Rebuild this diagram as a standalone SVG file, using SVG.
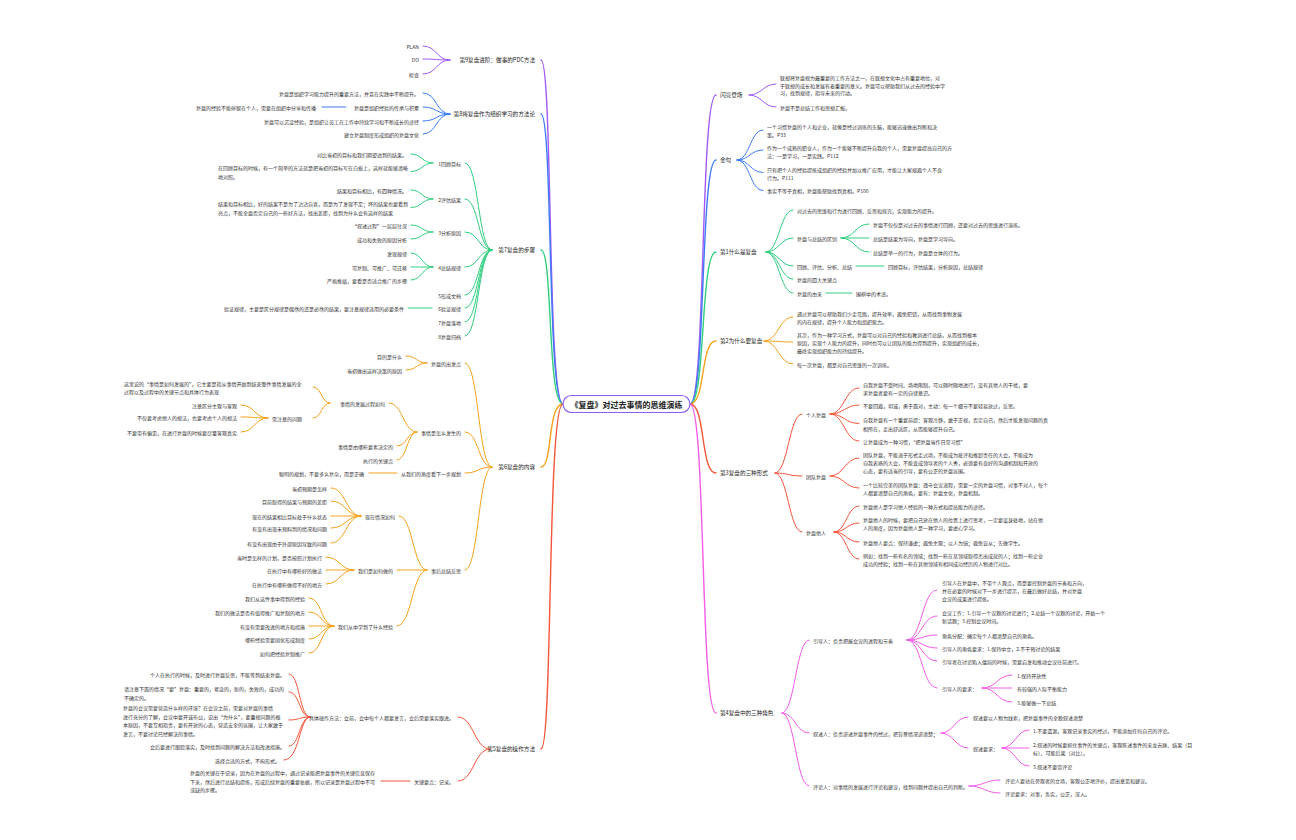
<svg xmlns="http://www.w3.org/2000/svg" width="1296" height="840" viewBox="0 0 1296 840">
<style>
text{font-family:"Noto Sans CJK SC","Noto Sans",sans-serif;font-size:5px;fill:#333;dominant-baseline:central}
.m{font-size:5.6px;fill:#222}
.e{text-anchor:end}
.ti{font-size:8px;font-weight:bold;fill:#222;text-anchor:middle}
path{fill:none;stroke-width:1;stroke-linecap:round}
.P{stroke:#a259f5}.B{stroke:#3d7bf5}.G{stroke:#2fcf7e}.O{stroke:#f7a11a}.R{stroke:#f5553a}.M{stroke:#f55ce8}
.k{stroke-width:1.4}
</style>
<rect width="1296" height="840" fill="#fff"/>
<g id="connectors">
<path class="P k" d="M563 404 C547 404,553 60,541 60"/>
<path class="B k" d="M563 404 C547 404,553 114,541 114"/>
<path class="G k" d="M563 404 C547 404,553 250,541 250"/>
<path class="O k" d="M563 404 C547 404,553 467,541 467"/>
<path class="R k" d="M563 404 C547 404,553 749,541 749"/>
<path class="P" d="M450 60 C436 60,437 46,423 46"/>
<path class="P" d="M450 60 C436 60,437 59,423 59"/>
<path class="P" d="M450 60 C436 60,437 74,423 74"/>
<path class="B" d="M450 114 C436 114,437 93,423 93"/>
<path class="B" d="M450 114 C436 114,437 107,423 107"/>
<path class="B" d="M450 114 C436 114,437 121,423 121"/>
<path class="B" d="M450 114 C436 114,437 134,423 134"/>
<path class="B" d="M346 107 L322 107"/>
<path class="G" d="M492 250 C478 250,479 163,465 163"/>
<path class="G" d="M492 250 C478 250,479 199,465 199"/>
<path class="G" d="M492 250 C478 250,479 232,465 232"/>
<path class="G" d="M492 250 C478 250,479 267,465 267"/>
<path class="G" d="M492 250 C478 250,479 295,465 295"/>
<path class="G" d="M492 250 C478 250,479 308,465 308"/>
<path class="G" d="M492 250 C478 250,479 322,465 322"/>
<path class="G" d="M492 250 C478 250,479 336,465 336"/>
<path class="G" d="M433 163 C422 163,422 154,411 154"/>
<path class="G" d="M433 163 C422 163,422 171.5,411 171.5"/>
<path class="G" d="M433 199 C422 199,422 190,411 190"/>
<path class="G" d="M433 199 C422 199,422 207.5,411 207.5"/>
<path class="G" d="M433 232 C422 232,422 225,411 225"/>
<path class="G" d="M433 232 C422 232,422 239,411 239"/>
<path class="G" d="M433 267 C422 267,422 253,411 253"/>
<path class="G" d="M433 267 C422 267,422 267,411 267"/>
<path class="G" d="M433 267 C422 267,422 280,411 280"/>
<path class="G" d="M432 308 L408 308"/>
<path class="O" d="M492 467 C478 467,479 363,465 363"/>
<path class="O" d="M492 467 C478 467,479 432,465 432"/>
<path class="O" d="M492 467 C478 467,479 473,465 473"/>
<path class="O" d="M492 467 C478 467,479 570,465 570"/>
<path class="O" d="M427 363 C416 363,417 356,406 356"/>
<path class="O" d="M427 363 C416 363,417 370,406 370"/>
<path class="O" d="M417 432 C403 432,403 403,389 403"/>
<path class="O" d="M417 432 C407 432,407 446,397 446"/>
<path class="O" d="M417 432 C407 432,407 460,397 460"/>
<path class="O" d="M330 403 C321 403,322 387,313 387"/>
<path class="O" d="M330 403 C321 403,322 418,313 418"/>
<path class="O" d="M268 418 C254 418,255 405,241 405"/>
<path class="O" d="M268 418 C254 418,255 417,241 417"/>
<path class="O" d="M268 418 C254 418,255 432,241 432"/>
<path class="O" d="M397 473 L369 473"/>
<path class="O" d="M427 570 C413 570,413 516,399 516"/>
<path class="O" d="M427 570 C412 570,412 570,397 570"/>
<path class="O" d="M427 570 C412 570,412 626,397 626"/>
<path class="O" d="M361 516 C346 516,346 488,331 488"/>
<path class="O" d="M361 516 C346 516,346 501,331 501"/>
<path class="O" d="M361 516 C346 516,346 516,331 516"/>
<path class="O" d="M361 516 C346 516,346 528,331 528"/>
<path class="O" d="M361 516 C346 516,346 543,331 543"/>
<path class="O" d="M354 570 C340 570,340 557,326 557"/>
<path class="O" d="M354 570 C340 570,340 570,326 570"/>
<path class="O" d="M354 570 C340 570,340 584,326 584"/>
<path class="O" d="M334 626 C321 626,322 598,309 598"/>
<path class="O" d="M334 626 C321 626,322 612,309 612"/>
<path class="O" d="M334 626 C321 626,322 626,309 626"/>
<path class="O" d="M334 626 C321 626,322 639,309 639"/>
<path class="O" d="M334 626 C321 626,322 653,309 653"/>
<path class="R" d="M490 749 C474 749,474 717,458 717"/>
<path class="R" d="M490 749 C474 749,474 781,458 781"/>
<path class="R" d="M310 717 C299 717,300 674,289 674"/>
<path class="R" d="M310 717 C299 717,300 692,289 692"/>
<path class="R" d="M310 717 C299 717,300 720,289 720"/>
<path class="R" d="M310 717 C299 717,300 746,289 746"/>
<path class="R" d="M310 717 C299 717,300 760,284 760"/>
<path class="R" d="M410 781 L381 781"/>
<path class="P k" d="M690 404 C706 404,700 95,716 95"/>
<path class="B k" d="M690 404 C706 404,700 160,716 160"/>
<path class="G k" d="M690 404 C706 404,700 252,716 252"/>
<path class="O k" d="M690 404 C706 404,700 341,716 341"/>
<path class="R k" d="M690 404 C706 404,700 473,716 473"/>
<path class="M k" d="M690 404 C706 404,700 713,716 713"/>
<path class="P" d="M749 95 C762 95,763 84,776 84"/>
<path class="P" d="M749 95 C762 95,763 107,776 107"/>
<path class="B" d="M737 160 C750 160,750 130,763 130"/>
<path class="B" d="M737 160 C750 160,750 150,763 150"/>
<path class="B" d="M737 160 C750 160,750 172.5,763 172.5"/>
<path class="B" d="M737 160 C750 160,750 190.5,763 190.5"/>
<path class="G" d="M766 252 C779 252,780 210,793 210"/>
<path class="G" d="M766 252 C779 252,780 238,793 238"/>
<path class="G" d="M766 252 C779 252,780 266,793 266"/>
<path class="G" d="M766 252 C779 252,780 279,793 279"/>
<path class="G" d="M766 252 C779 252,780 293,793 293"/>
<path class="G" d="M841 238 C855 238,855 224,869 224"/>
<path class="G" d="M841 238 C855 238,855 238,869 238"/>
<path class="G" d="M841 238 C855 238,855 252,869 252"/>
<path class="G" d="M856 266 L884 266"/>
<path class="G" d="M826 293 L852 293"/>
<path class="O" d="M764 341 C778 341,779 317,793 317"/>
<path class="O" d="M764 341 C778 341,779 342,793 342"/>
<path class="O" d="M764 341 C778 341,779 364,793 364"/>
<path class="R" d="M775 473 C788 473,789 414,802 414"/>
<path class="R" d="M775 473 C788 473,789 476,802 476"/>
<path class="R" d="M775 473 C788 473,789 532,802 532"/>
<path class="R" d="M830 414 C844 414,845 388,859 388"/>
<path class="R" d="M830 414 C844 414,845 405,859 405"/>
<path class="R" d="M830 414 C844 414,845 423.5,859 423.5"/>
<path class="R" d="M830 414 C844 414,845 441,859 441"/>
<path class="R" d="M830 476 C844 476,845 458,859 458"/>
<path class="R" d="M830 476 C844 476,845 488,859 488"/>
<path class="R" d="M834 532 C846 532,847 506,859 506"/>
<path class="R" d="M834 532 C846 532,847 523,859 523"/>
<path class="R" d="M834 532 C846 532,847 542,859 542"/>
<path class="R" d="M834 532 C846 532,847 559,859 559"/>
<path class="M" d="M782 713 C795 713,796 640,809 640"/>
<path class="M" d="M782 713 C795 713,796 733,809 733"/>
<path class="M" d="M782 713 C795 713,796 786,809 786"/>
<path class="M" d="M907 640 C922 640,922 590,937 590"/>
<path class="M" d="M907 640 C922 640,922 616,937 616"/>
<path class="M" d="M907 640 C922 640,922 635,937 635"/>
<path class="M" d="M907 640 C922 640,922 648,937 648"/>
<path class="M" d="M907 640 C922 640,922 661,937 661"/>
<path class="M" d="M907 640 C922 640,922 688,937 688"/>
<path class="M" d="M982 688 C997 688,997 675,1012 675"/>
<path class="M" d="M982 688 C997 688,997 688,1012 688"/>
<path class="M" d="M982 688 C997 688,997 702,1012 702"/>
<path class="M" d="M941 733 C954 733,955 717,968 717"/>
<path class="M" d="M941 733 C954 733,955 748,968 748"/>
<path class="M" d="M1002 748 C1015 748,1016 730,1029 730"/>
<path class="M" d="M1002 748 C1015 748,1016 748,1029 748"/>
<path class="M" d="M1002 748 C1015 748,1016 766,1029 766"/>
<path class="M" d="M969 786 C984 786,985 780,1000 780"/>
<path class="M" d="M969 786 C984 786,985 793,1000 793"/>
</g>
<g id="center"><rect x="563" y="395.5" width="127" height="17" rx="8.5" fill="#fff" stroke="#8b5cf6" stroke-width="1.2"/><text class="ti" x="626.5" y="404">《复盘》对过去事情的思维演练</text></g>
<!-- LEFT: purple -->
<g id="n-pdc"><text class="m e" x="535" y="60">第9复盘进阶：做事的PDC方法</text></g>
<g id="n-plan"><text class="e" x="419" y="46">PLAN</text></g>
<g id="n-do"><text class="e" x="419" y="59">DO</text></g>
<g id="n-check"><text class="e" x="419" y="74">检查</text></g>
<!-- blue -->
<g id="n-org"><text class="m e" x="535" y="114">第8将复盘作为组织学习的方法论</text></g>
<g id="n-org1"><text class="e" x="419" y="93">复盘是组织学习能力提升的重要方法，并且在实践中不断提升。</text></g>
<g id="n-org2"><text class="e" x="419" y="107">复盘是组织经验的传承与积累</text></g>
<g id="n-org2a"><text class="e" x="316" y="107">复盘的经验不能停留在个人，需要在组织中分享和传播</text></g>
<g id="n-org3"><text class="e" x="419" y="121">复盘可以沉淀经验，是组织让员工在工作中持续学习和不断成长的途径</text></g>
<g id="n-org4"><text class="e" x="419" y="134">建立复盘制度形成组织的复盘文化</text></g>
<!-- green -->
<g id="n-steps"><text class="m e" x="535" y="250">第7复盘的步骤</text></g>
<g id="n-s1"><text class="e" x="461" y="163">1回顾目标</text></g>
<g id="n-s1a"><text class="e" x="407" y="154">对比当初的目标和我们期望达到的结果。</text></g>
<g id="n-s1b"><text x="218" y="167">在回顾目标的时候，有一个简单的方法就是把当初的目标写在白板上，这样就能够清晰<tspan x="218" dy="9">地对照。</tspan></text></g>
<g id="n-s2"><text class="e" x="461" y="199">2评估结果</text></g>
<g id="n-s2a"><text class="e" x="407" y="190">结果和目标相比，有四种情况。</text></g>
<g id="n-s2b"><text x="218" y="203">结果和目标相比，好的结果不是为了沾沾自喜，而是为了发现不足；坏的结果也要看到<tspan x="218" dy="9">亮点，不能全盘否定自己的一些好方法，找出差距，找到为什么会有这样的结果</tspan></text></g>
<g id="n-s3"><text class="e" x="461" y="232">3分析原因</text></g>
<g id="n-s3a"><text class="e" x="407" y="225">“叙述过程”一层层往深</text></g>
<g id="n-s3b"><text class="e" x="407" y="239">成功和失败的原因分析</text></g>
<g id="n-s4"><text class="e" x="461" y="267">4总结规律</text></g>
<g id="n-s4a"><text class="e" x="407" y="253">发现规律</text></g>
<g id="n-s4b"><text class="e" x="407" y="267">可复制、可推广、可迁移</text></g>
<g id="n-s4c"><text class="e" x="407" y="280">严格推敲，要看是否适合推广的步骤</text></g>
<g id="n-s5"><text class="e" x="461" y="295">5形成文档</text></g>
<g id="n-s6"><text class="e" x="461" y="308">6验证规律</text></g>
<g id="n-s6a"><text class="e" x="404" y="308">验证规律，主要是区分规律是偶然的还是必然的结果，要注意规律适用的必要条件</text></g>
<g id="n-s7"><text class="e" x="461" y="322">7复盘落地</text></g>
<g id="n-s8"><text class="e" x="461" y="336">8复盘归档</text></g>
<!-- orange -->
<g id="n-content"><text class="m e" x="535" y="467">第6复盘的内容</text></g>
<g id="n-c1"><text class="e" x="461" y="363">复盘的出发点</text></g>
<g id="n-c1a"><text class="e" x="402" y="356">目的是什么</text></g>
<g id="n-c1b"><text class="e" x="402" y="370">当初做出这样决策的原因</text></g>
<g id="n-c2"><text class="e" x="461" y="432">事情是怎么发生的</text></g>
<g id="n-c2a"><text class="e" x="385" y="403">事情的发展过程如何</text></g>
<g id="n-c2a1"><text x="124" y="383">这里说的“事情是如何发展的”，它主要是指从事情开始到结束整件事情发展的全<tspan x="124" dy="8">过程以及过程中的关键节点和具体行为表现</tspan></text></g>
<g id="n-c2a2"><text class="e" x="302" y="418">需注意的问题</text></g>
<g id="n-c2a2a"><text class="e" x="237" y="405">注意区分主观与客观</text></g>
<g id="n-c2a2b"><text class="e" x="237" y="417">不仅要考虑他人的想法，也要考虑个人的想法</text></g>
<g id="n-c2a2c"><text class="e" x="237" y="432">不要带有偏见，在进行复盘的时候要尽量客观真实</text></g>
<g id="n-c2b"><text class="e" x="393" y="446">事情是由哪些要素决定的</text></g>
<g id="n-c2c"><text class="e" x="393" y="460">执行的关键点</text></g>
<g id="n-c3"><text class="e" x="461" y="473">从我们的角度看下一步规划</text></g>
<g id="n-c3a"><text class="e" x="364" y="473">聪明的规划，不要多么复杂，而是正确</text></g>
<g id="n-c4"><text class="e" x="461" y="570">事后总结反思</text></g>
<g id="n-c4a"><text class="e" x="395" y="516">现在情况如何</text></g>
<g id="n-c4a1"><text class="e" x="327" y="488">当初预期是怎样</text></g>
<g id="n-c4a2"><text class="e" x="327" y="501">目前取得的结果与预期的差距</text></g>
<g id="n-c4a3"><text class="e" x="327" y="516">现在的结果相比目标处于什么状态</text></g>
<g id="n-c4a4"><text class="e" x="327" y="528">有没有出现未预料到的情况和问题</text></g>
<g id="n-c4a5"><text class="e" x="327" y="543">有没有出现由于外部原因导致的问题</text></g>
<g id="n-c4b"><text class="e" x="393" y="570">我们是如何做的</text></g>
<g id="n-c4b1"><text class="e" x="322" y="557">当时是怎样的计划，是否按照计划执行</text></g>
<g id="n-c4b2"><text class="e" x="322" y="570">在执行中有哪些好的做法</text></g>
<g id="n-c4b3"><text class="e" x="322" y="584">在执行中有哪些做得不好的地方</text></g>
<g id="n-c4c"><text class="e" x="393" y="626">我们从中学到了什么经验</text></g>
<g id="n-c4c1"><text class="e" x="305" y="598">我们从这件事中得到的经验</text></g>
<g id="n-c4c2"><text class="e" x="305" y="612">我们的做法是否有值得推广和复制的地方</text></g>
<g id="n-c4c3"><text class="e" x="305" y="626">有没有需要改进的地方和措施</text></g>
<g id="n-c4c4"><text class="e" x="305" y="639">哪些经验需要固化形成制度</text></g>
<g id="n-c4c5"><text class="e" x="305" y="653">如何把经验复制推广</text></g>
<!-- red -->
<g id="n-method"><text class="m e" x="535" y="749">第5复盘的操作方法</text></g>
<g id="n-m1"><text class="e" x="454" y="717">具体操作方法：会前，会中每个人都要发言，会后需要落实跟进。</text></g>
<g id="n-m1a"><text class="e" x="285" y="674">个人在执行的时候，及时进行复盘反思，不能等到结束复盘。</text></g>
<g id="n-m1b"><text x="124" y="688">请注意下面的情况“要”复盘：重要的，紧急的，新的，失败的，成功的<tspan x="124" dy="8.5">不确定的。</tspan></text></g>
<g id="n-m1c"><text x="123" y="707">复盘的会议需要营造什么样的环境？在会议之前，需要对复盘的事情<tspan x="123" dy="8.5">进行充分的了解，会议中要开诚布公，说出“为什么”，要重视问题的根</tspan><tspan x="123" dy="8.5">本原因，不要互相指责，要有开放的心态，营造安全的氛围，让大家敢于</tspan><tspan x="123" dy="8.5">发言，不要讨论已经解决的事情。</tspan></text></g>
<g id="n-m1d"><text class="e" x="285" y="746">会后要进行跟踪落实，及时找到问题的解决方法和改进措施。</text></g>
<g id="n-m1e"><text class="e" x="280" y="760">选择合适的方式，不拘形式。</text></g>
<g id="n-m2"><text class="e" x="454" y="781">关键要点：记录。</text></g>
<g id="n-m2a"><text x="190" y="772">复盘的关键在于记录，因为在复盘的过程中，通过记录能把复盘事件的关键信息保存<tspan x="190" dy="8.5">下来，然后进行总结和提炼，形成后续复盘的重要依据，所以记录是复盘过程中不可</tspan><tspan x="190" dy="8.5">或缺的步骤。</tspan></text></g>
<!-- RIGHT -->
<g id="n-intro"><text class="m" x="720" y="95">闪亮登场</text></g>
<g id="n-intro1"><text x="780" y="77">联想将复盘视为最重要的工作方法之一，在联想文化中占有重要地位，对<tspan x="780" dy="7.5">于联想的成长和发展有着重要的意义。复盘可以帮助我们从过去的经验中学</tspan><tspan x="780" dy="7.5">习，找到规律，指导未来的行动。</tspan></text></g>
<g id="n-intro2"><text x="780" y="107">复盘不是总结工作和思想汇报。</text></g>
<g id="n-quote"><text class="m" x="720" y="160">金句</text></g>
<g id="n-q1"><text x="767" y="126">一个习惯复盘的个人和企业，就像是经过训练的头脑，能够迅速做出判断和决<tspan x="767" dy="7.5">策。P33</tspan></text></g>
<g id="n-q2"><text x="767" y="147">作为一个成熟的职业人，作为一个能够不断提升自我的个人，需要复盘提高自己的方<tspan x="767" dy="7.5">法：一是学习，一是实践。P112</tspan></text></g>
<g id="n-q3"><text x="767" y="169">只有把个人的经验提炼成组织的经验并加以推广应用，才能让大家规避个人不良<tspan x="767" dy="7.5">行为。P111</tspan></text></g>
<g id="n-q4"><text x="767" y="190.5">事实不等于真相，复盘能帮助找到真相。P100</text></g>
<g id="n-ch1"><text class="m" x="720" y="252">第1什么是复盘</text></g>
<g id="n-ch1a"><text x="797" y="210">对过去的思维和行为进行回顾、反思和探究，实现能力的提升。</text></g>
<g id="n-ch1b"><text x="797" y="238">复盘与总结的区别</text></g>
<g id="n-ch1b1"><text x="873" y="224">复盘不仅仅是对过去的事情进行回顾，还要对过去的思维进行演练。</text></g>
<g id="n-ch1b2"><text x="873" y="238">总结是结果为导向，复盘是学习导向。</text></g>
<g id="n-ch1b3"><text x="873" y="252">总结是单一的行为，复盘是立体的行为。</text></g>
<g id="n-ch1c"><text x="797" y="266">回顾、评估、分析、总结</text></g>
<g id="n-ch1c1"><text x="888" y="266">回顾目标，评估结果，分析原因，总结规律</text></g>
<g id="n-ch1d"><text x="797" y="279">复盘的四大关键点</text></g>
<g id="n-ch1e"><text x="797" y="293">复盘的由来</text></g>
<g id="n-ch1e1"><text x="856" y="293">围棋中的术语。</text></g>
<g id="n-ch2"><text class="m" x="720" y="341">第2为什么要复盘</text></g>
<g id="n-ch2a"><text x="797" y="313.5">通过复盘可以帮助我们少走弯路，提升效率，避免犯错，从而找到事物发展<tspan x="797" dy="7.5">的内在规律，提升个人能力和组织能力。</tspan></text></g>
<g id="n-ch2b"><text x="797" y="334.5">其次，作为一种学习方式，复盘可以对自己的经验和教训进行总结，从而找到根本<tspan x="797" dy="7.5">原因，实现个人能力的提升，同时也可以让团队的能力得到提升，实现组织的成长，</tspan><tspan x="797" dy="7.5">最终实现组织能力的持续提升。</tspan></text></g>
<g id="n-ch2c"><text x="797" y="364">每一次复盘，都是对自己思维的一次训练。</text></g>
<g id="n-ch3"><text class="m" x="720" y="473">第3复盘的三种形式</text></g>
<g id="n-ch3a"><text x="806" y="414">个人复盘</text></g>
<g id="n-ch3a1"><text x="863" y="384">自我复盘不受时间、场地限制，可以随时随地进行，没有其他人的干扰，要<tspan x="863" dy="8">求复盘者要有一定的自律意识。</tspan></text></g>
<g id="n-ch3a2"><text x="863" y="405">不要回避，坦诚，勇于面对，主动：每一个细节不要轻易放过，反思。</text></g>
<g id="n-ch3a3"><text x="863" y="419">自我复盘有一个重要前提：客观冷静，敢于正视，否定自己，然后才能发现问题的真<tspan x="863" dy="8.5">相所在，走出舒适区，从而能够提升自己。</tspan></text></g>
<g id="n-ch3a4"><text x="863" y="441">让复盘成为一种习惯，“把复盘当作日常习惯”</text></g>
<g id="n-ch3b"><text x="806" y="476">团队复盘</text></g>
<g id="n-ch3b1"><text x="863" y="454">团队复盘，不能流于形式走过场，不能成为批评和推卸责任的大会，不能成为<tspan x="863" dy="8">自我表扬的大会，不能变成领导者的个人秀，必须要有良好的沟通机制和开放的</tspan><tspan x="863" dy="8">心态，要有适当的引导，要有公正的复盘氛围。</tspan></text></g>
<g id="n-ch3b2"><text x="863" y="484">一个比较完美的团队复盘：遵守会议流程，需要一定的复盘习惯，对事不对人，每个<tspan x="863" dy="8">人都要清楚自己的角色，要有：复盘文化，复盘机制。</tspan></text></g>
<g id="n-ch3c"><text x="806" y="532">复盘他人</text></g>
<g id="n-ch3c1"><text x="863" y="506">复盘他人是学习他人经验的一种方式和提高能力的途径。</text></g>
<g id="n-ch3c2"><text x="863" y="519">复盘他人的时候，要把自己放在他人的位置上进行思考，一定要设身处地，站在他<tspan x="863" dy="8">人的角度，因为复盘他人是一种学习，要虚心学习。</tspan></text></g>
<g id="n-ch3c3"><text x="863" y="542">复盘他人要点：保持谦虚；避免主观；以人为镜；避免盲从；先做学生。</text></g>
<g id="n-ch3c4"><text x="863" y="555">例如：找到一些有名的领域；找到一些在某领域取得杰出成就的人；找到一些企业<tspan x="863" dy="8">成功的经验；找到一些在其他领域有相同成功经历的人物进行对比。</tspan></text></g>
<g id="n-ch4"><text class="m" x="720" y="713">第4复盘中的三种角色</text></g>
<g id="n-ch4a"><text x="813" y="640">引导人：负责把握会议的进程和节奏</text></g>
<g id="n-ch4a1"><text x="942" y="582">引导人在复盘中，不带个人观点，而是要控制复盘的节奏和方向，<tspan x="942" dy="8">并在必要的时候对下一步进行提示，在最后做好总结，并对复盘</tspan><tspan x="942" dy="8">会议的成果进行提炼。</tspan></text></g>
<g id="n-ch4a2"><text x="942" y="612">会议工作：1.引导一个议题的讨论进行；2.总结一个议题的讨论，开始一个<tspan x="942" dy="8">新话题；3.控制会议时间。</tspan></text></g>
<g id="n-ch4a3"><text x="942" y="635">角色分配：确定每个人都清楚自己的角色。</text></g>
<g id="n-ch4a4"><text x="942" y="648">引导人的角色要求：1.保持中立，2.不干预讨论的结果</text></g>
<g id="n-ch4a5"><text x="942" y="661">引导者在讨论陷入僵局的时候，需要启发和推动会议往前进行。</text></g>
<g id="n-ch4a6"><text x="942" y="688">引导人的要求：</text></g>
<g id="n-ch4a6a"><text x="1017" y="675">1.保持开放性</text></g>
<g id="n-ch4a6b"><text x="1017" y="688">有较强的人际平衡能力</text></g>
<g id="n-ch4a6c"><text x="1017" y="702">3.能够做一下总结</text></g>
<g id="n-ch4b"><text x="813" y="733">叙述人：负责讲述复盘事件的经过，把背景情况讲清楚；</text></g>
<g id="n-ch4b1"><text x="973" y="717">叙述要以人物为线索，把复盘事件的全貌叙述清楚</text></g>
<g id="n-ch4b2"><text x="973" y="748">叙述要求：</text></g>
<g id="n-ch4b2a"><text x="1033" y="730">1.不要遗漏，客观记录事实的经过，不能添加任何自己的评论。</text></g>
<g id="n-ch4b2b"><text x="1033" y="744">2.叙述的时候要抓住事件的关键点，客观陈述事件的来龙去脉、结果（目<tspan x="1033" dy="8">标）、可能后果（对比）。</tspan></text></g>
<g id="n-ch4b2c"><text x="1033" y="766">3.叙述不要带评论</text></g>
<g id="n-ch4c"><text x="813" y="786">评论人：对事情的发展进行评论和建议，找到问题并提出自己的判断。</text></g>
<g id="n-ch4c1"><text x="1005" y="780">评论人要站在旁观者的立场，客观公正地评价，提出意见和建议。</text></g>
<g id="n-ch4c2"><text x="1005" y="793">评论要求：对事，务实，公正，深入。</text></g>
</svg>
